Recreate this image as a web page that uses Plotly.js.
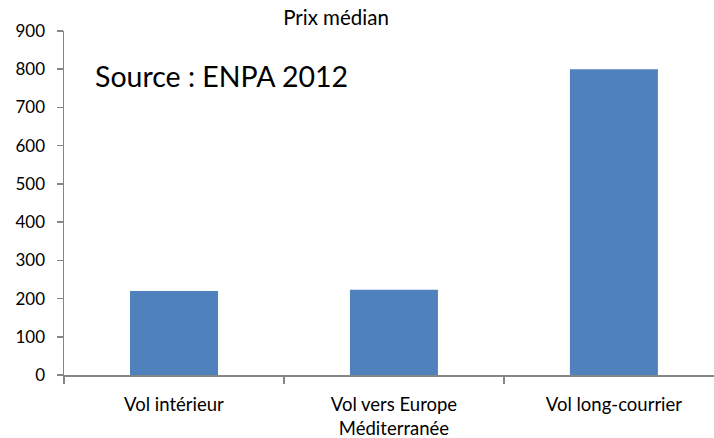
<!DOCTYPE html>
<html>
<head>
<meta charset="utf-8">
<script src="https://cdn.plot.ly/plotly-3.0.1.min.js"></script>
<style>
  html, body { margin: 0; padding: 0; background: #fff; }
  #chart { width: 714px; height: 438px; }
</style>
</head>
<body>
<div id="chart"></div>
<script>
const categories = ["Vol intérieur", "Vol vers Europe<br>Méditerranée", "Vol long-courrier"];
const values = [220, 223, 800];
const yTicks = [0, 100, 200, 300, 400, 500, 600, 700, 800, 900];
const titleText = "Prix médian";
const sourceText = "Source : ENPA 2012";

const FONT = "Lato, 'Open Sans', sans-serif";
const AXIS = "#868686";

const trace = {
  type: "bar",
  x: categories,
  y: values,
  marker: { color: "#4F81BD", line: { width: 0 } },
  hoverinfo: "skip"
};

const layout = {
  width: 714,
  height: 438,
  margin: { l: 64, r: 0, t: 31, b: 63, pad: 0 },
  paper_bgcolor: "#ffffff",
  plot_bgcolor: "#ffffff",
  showlegend: false,
  bargap: 0.6,
  font: { family: FONT, color: "#000000", size: 17 },
  title: {
    text: titleText,
    font: { family: FONT, size: 20.5, color: "#000000" },
    xref: "container", x: 336 / 714, xanchor: "center",
    yref: "container", y: 1 - 18 / 438, yanchor: "middle"
  },
  xaxis: {
    type: "category",
    range: [-0.5, 2.455],
    showline: true, linecolor: AXIS, linewidth: 1.5,
    ticks: "outside", tickson: "boundaries", ticklen: 7, tickcolor: AXIS, tickwidth: 1.5,
    ticklabelstandoff: 12,
    showgrid: false, zeroline: false,
    tickfont: { family: FONT, size: 18.5, color: "#000000" },
    fixedrange: true
  },
  yaxis: {
    range: [0, 900],
    tickvals: yTicks,
    ticktext: yTicks.map(String),
    showline: true, linecolor: AXIS, linewidth: 1.5,
    ticks: "outside", ticklen: 6, tickcolor: AXIS, tickwidth: 1.5,
    ticklabelstandoff: 8,
    showgrid: false, zeroline: false,
    tickfont: { family: FONT, size: 17, color: "#000000" },
    fixedrange: true
  },
  annotations: [{
    text: sourceText,
    xref: "paper", yref: "paper",
    x: (93 - 64) / 650, xanchor: "left",
    y: (375 - 76) / 344, yanchor: "middle",
    showarrow: false,
    font: { family: FONT, size: 28.5, color: "#000000" }
  }]
};

Plotly.newPlot("chart", [trace], layout, { displayModeBar: false, staticPlot: true });
</script>
</body>
</html>
